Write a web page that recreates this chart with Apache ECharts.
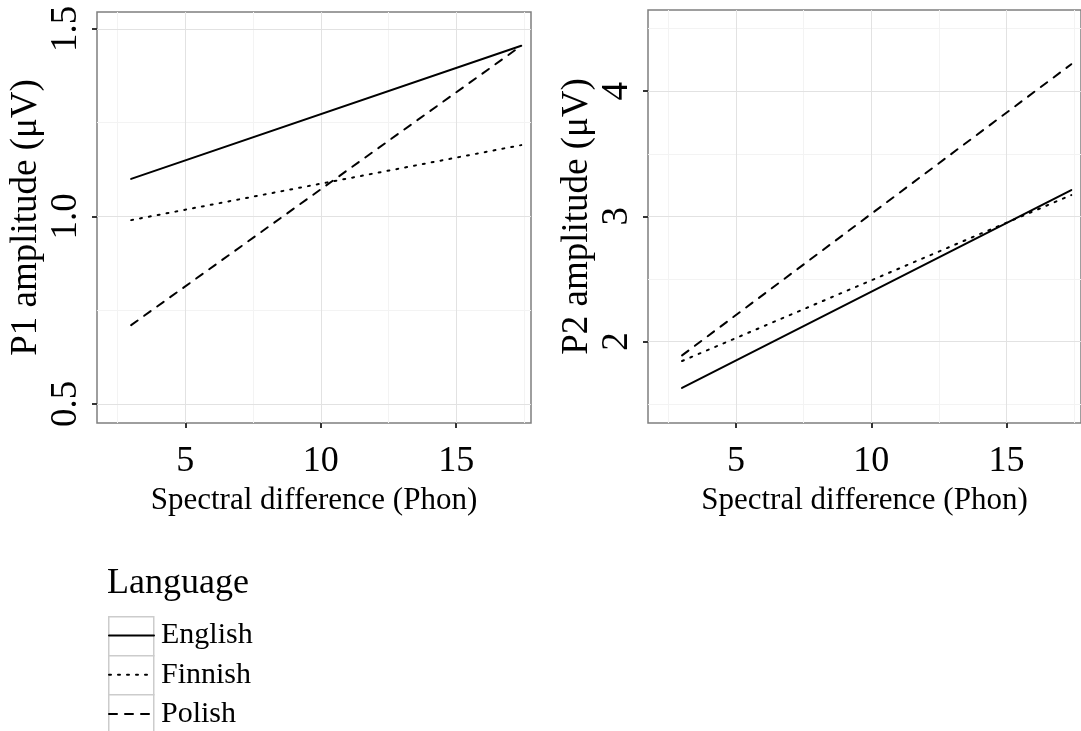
<!DOCTYPE html>
<html>
<head>
<meta charset="utf-8">
<script src="https://cdn.jsdelivr.net/npm/echarts@6/dist/echarts.min.js"></script>
<style>
html,body{margin:0;padding:0;background:#fff;}
#chart{width:1081px;height:731px;}
</style>
</head>
<body>
<div id="chart"></div>
<script>
// ---- data ----
const languages = ['English', 'Finnish', 'Polish'];
const spectralDiff = [3, 17.4];
const p1English = [1.10, 1.455];
const p1Finnish = [0.99, 1.19];
const p1Polish = [0.71, 1.455];
const p2English = [1.63, 3.21];
const p2Finnish = [1.845, 3.17];
const p2Polish = [1.89, 4.215];
const xTicks = [5, 10, 15];
const xMinor = [2.5, 7.5, 12.5, 17.5];
const p1Ticks = [0.5, 1.0, 1.5];
const p1Minor = [0.75, 1.25];
const p2Ticks = [2, 3, 4];
const p2Minor = [1.5, 2.5, 3.5, 4.5];
const xLabel = 'Spectral difference (Phon)';
const p1Label = 'P1 amplitude (\u03BCV)';
const p2Label = 'P2 amplitude (\u03BCV)';
const legendTitle = 'Language';

// ---- styles ----
const FONT = '"Liberation Serif", "DejaVu Serif", serif';
const dashes = { English: 'solid', Finnish: [2, 7], Polish: [8, 8] };
const p1 = { English: p1English, Finnish: p1Finnish, Polish: p1Polish };
const p2 = { English: p2English, Finnish: p2Finnish, Polish: p2Polish };

function pairs(ys) { return spectralDiff.map((x, i) => [x, ys[i]]); }

function xAxisFor(gi) {
  return {
    type: 'value', gridIndex: gi, min: 1.74, max: 17.76,
    name: xLabel, nameLocation: 'middle', nameGap: 52,
    nameTextStyle: { fontFamily: FONT, fontSize: 31, color: '#000' },
    axisLine: { show: false },
    axisTick: { show: true, length: 5, customValues: xTicks, lineStyle: { color: '#333', width: 2 } },
    axisLabel: { customValues: xTicks, margin: 21, fontFamily: FONT, fontSize: 36, color: '#000' },
    splitLine: { show: false }
  };
}
function yAxisFor(gi, min, max, ticks, name) {
  return {
    type: 'value', gridIndex: gi, min: min, max: max,
    name: name, nameLocation: 'middle', nameGap: 52, nameRotate: 90,
    nameTextStyle: { fontFamily: FONT, fontSize: 37, color: '#000' },
    axisLine: { show: false },
    axisTick: { show: true, length: 5, customValues: ticks, lineStyle: { color: '#333', width: 2 } },
    axisLabel: { customValues: ticks, rotate: 90, margin: 12, fontFamily: FONT, fontSize: 37, color: '#000',
      formatter: v => (ticks === p1Ticks ? v.toFixed(1) : String(v)) },
    splitLine: { show: false }
  };
}
function gridSeries(gi, xMaj, xMin, yMaj, yMin) {
  const major = { color: '#e2e2e2', width: 1, type: 'solid' };
  const minor = { color: '#f3f3f3', width: 1, type: 'solid' };
  const d = [];
  xMin.forEach(v => d.push({ xAxis: v, lineStyle: minor }));
  yMin.forEach(v => d.push({ yAxis: v, lineStyle: minor }));
  xMaj.forEach(v => d.push({ xAxis: v, lineStyle: major }));
  yMaj.forEach(v => d.push({ yAxis: v, lineStyle: major }));
  return {
    type: 'line', xAxisIndex: gi, yAxisIndex: gi, data: [], silent: true, z: 1,
    markLine: { silent: true, symbol: 'none', label: { show: false }, animation: false, data: d }
  };
}
function lineSeries(gi, lang, ys) {
  return {
    name: lang, type: 'line', xAxisIndex: gi, yAxisIndex: gi, data: pairs(ys),
    symbol: 'none', showSymbol: false, z: 5,
    lineStyle: { color: '#000', width: 2, type: dashes[lang], cap: 'round' },
    itemStyle: { color: '#000' }
  };
}

const series = [
  gridSeries(0, xTicks, xMinor, p1Ticks, p1Minor),
  gridSeries(1, xTicks, xMinor, p2Ticks, p2Minor)
];
languages.forEach(l => series.push(lineSeries(0, l, p1[l])));
languages.forEach(l => series.push(lineSeries(1, l, p2[l])));

const chart = echarts.init(document.getElementById('chart'), null, { renderer: 'canvas' });
chart.setOption({
  animation: false,
  backgroundColor: '#fff',
  grid: [
    { left: 97, top: 12, width: 434, height: 411, show: true, borderColor: '#7f7f7f', borderWidth: 1.5, backgroundColor: '#fff', containLabel: false },
    { left: 648, top: 10, width: 437, height: 413, show: true, borderColor: '#7f7f7f', borderWidth: 1.5, backgroundColor: '#fff', containLabel: false }
  ],
  xAxis: [xAxisFor(0), xAxisFor(1)],
  yAxis: [
    yAxisFor(0, 0.449, 1.545, p1Ticks, p1Label),
    yAxisFor(1, 1.35, 4.648, p2Ticks, p2Label)
  ],
  title: {
    text: legendTitle, left: 102, top: 561,
    textStyle: { fontFamily: FONT, fontSize: 36, fontWeight: 'normal', color: '#000' }
  },
  legend: {
    data: languages, orient: 'vertical', left: 108, top: 620,
    itemWidth: 45, itemHeight: 39, itemGap: 8, padding: 0,
    selectedMode: false,
    itemStyle: { color: 'rgba(0,0,0,0)', borderColor: 'rgba(0,0,0,0)', borderWidth: 0 },
    textStyle: { fontFamily: FONT, fontSize: 30, color: '#000', padding: [0, 0, 0, 2] }
  },
  graphic: [0, 1, 2].map(i => ({
    type: 'rect', left: 108, top: 616 + 39 * i, z: -1,
    shape: { width: 45, height: 39 },
    style: { fill: '#fff', stroke: '#cccccc', lineWidth: 1.5 }
  })),
  series: series
});
</script>
</body>
</html>
